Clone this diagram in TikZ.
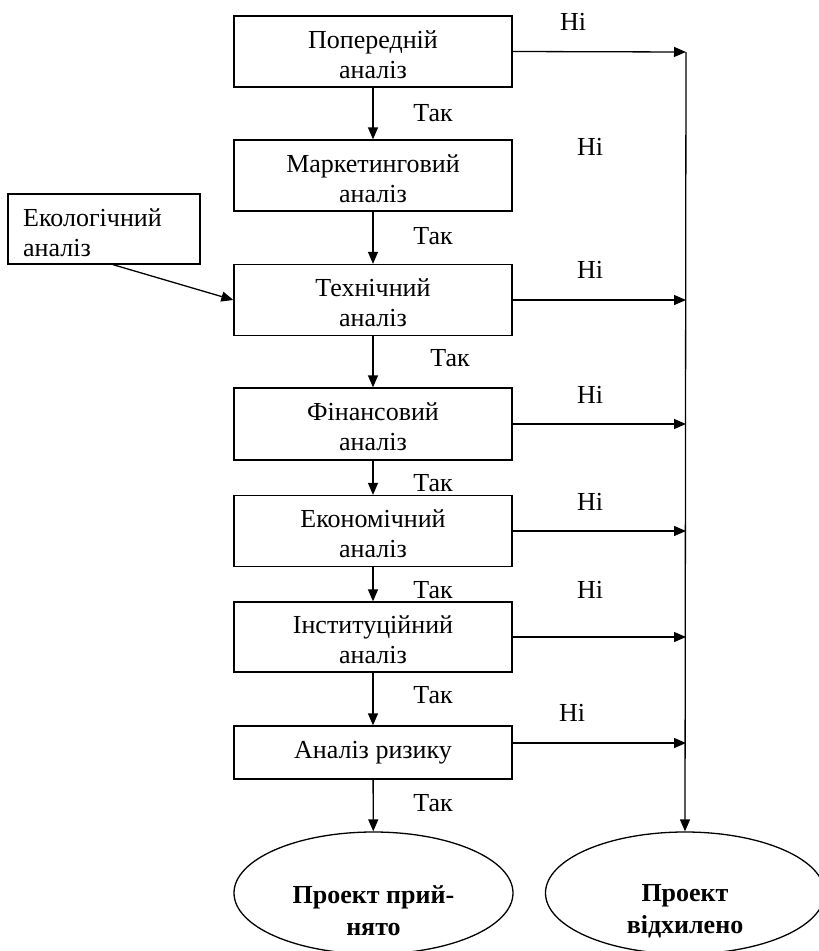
\documentclass[tikz,border=0pt]{standalone}
\usepackage{fontspec}
\setmainfont{Liberation Serif}
\usetikzlibrary{arrows.meta,shapes.geometric}
\newcommand\liftxt[1]{\raisebox{-12pt}[0pt][0pt]{\begin{tabular}{@{}c@{}}#1\end{tabular}}}
\begin{document}
\begin{tikzpicture}[x=1pt,y=-1pt,
  font=\fontsize{26}{30}\selectfont,
  lw/.style={line width=1.3pt},
  box/.style={draw,lw,rectangle,minimum width=278pt,inner sep=0pt,anchor=center},
  eco/.style={draw,lw,rectangle,minimum width=192pt,minimum height=70pt,inner sep=0pt},
  oval/.style={draw,lw,ellipse,minimum width=279pt,minimum height=122pt,inner sep=0pt},
  arr/.style={lw,-{Triangle[length=12pt,width=10pt]}},
  lbl/.style={inner sep=0pt,anchor=center},
  bold/.style={font=\fontsize{26}{32}\selectfont\bfseries,align=center,inner sep=0pt}
]
\useasboundingbox (0,0) rectangle (819,951);
% main boxes
\node[box,minimum height=71pt] (b1) at (373,51.5) {\liftxt{Попередній\\аналіз}};
\node[box,minimum height=71pt] (b2) at (373,175.5) {\liftxt{Маркетинговий\\аналіз}};
\node[box,minimum height=71pt] (b3) at (373,300) {\liftxt{Технічний\\аналіз}};
\node[box,minimum height=72pt] (b4) at (373,424) {\liftxt{Фінансовий\\аналіз}};
\node[box,minimum height=71pt] (b5) at (373,531) {\liftxt{Економічний\\аналіз}};
\node[box,minimum height=70pt] (b6) at (373,637) {\liftxt{Інституційний\\аналіз}};
\node[box,minimum height=53pt] (b7) at (373,752.5) {Аналіз ризику};
% ecological box
\node[eco] (eco) at (104,229) {};
\node[lbl,align=left,anchor=north west] (ecot) at (23,208) {Екологічний\\аналіз};
% ellipses
\node[oval] (acc) at (373.5,893) {};
\node[bold] (acct) at (373.5,911) {Проект прий-\\нято};
\node[oval] (rej) at (685,893) {};
\node[bold] (rejt) at (685,911) {Проект\\відхилено};
% right-hand collector points
\coordinate (r1) at (686,52);
\coordinate (r3) at (686,300);
\coordinate (r4) at (686,424);
\coordinate (r5) at (686,531);
\coordinate (r6) at (686,637);
\coordinate (r7) at (686,743);
% vertical "yes" arrows
\draw[arr] (b1) -- (b2);
\draw[arr] (b2) -- (b3);
\draw[arr] (b3) -- (b4);
\draw[arr] (b4) -- (b5);
\draw[arr] (b5) -- (b6);
\draw[arr] (b6) -- (b7);
\draw[arr] (b7) -- (acc);
% ecological arrow
\draw[arr] ([xshift=9pt]eco.south) -- (b3.west);
% "no" arrows
\draw[arr] (b1.east) -- (r1);
\draw[arr] (b3.east) -- (r3);
\draw[arr] (b4.east) -- (r4);
\draw[arr] (b5.east) -- (r5);
\draw[arr] (b6.east) -- (r6);
\draw[arr] ([yshift=9.5pt]b7.east) -- (r7);
\draw[arr] (r1) -- (rej.north);
% labels
\node[lbl] (n1) at (573,22) {Ні};
\node[lbl] (n2) at (590,147) {Ні};
\node[lbl] (n3) at (590,270) {Ні};
\node[lbl] (n4) at (590,395) {Ні};
\node[lbl] (n5) at (590,502) {Ні};
\node[lbl] (n6) at (590,590) {Ні};
\node[lbl] (n7) at (572,713) {Ні};
\node[lbl] (t1) at (433,113) {Так};
\node[lbl] (t2) at (433,236) {Так};
\node[lbl] (t3) at (450,358) {Так};
\node[lbl] (t4) at (433,483) {Так};
\node[lbl] (t5) at (433,590) {Так};
\node[lbl] (t6) at (433,695) {Так};
\node[lbl] (t7) at (433,803) {Так};
\end{tikzpicture}
\end{document}
